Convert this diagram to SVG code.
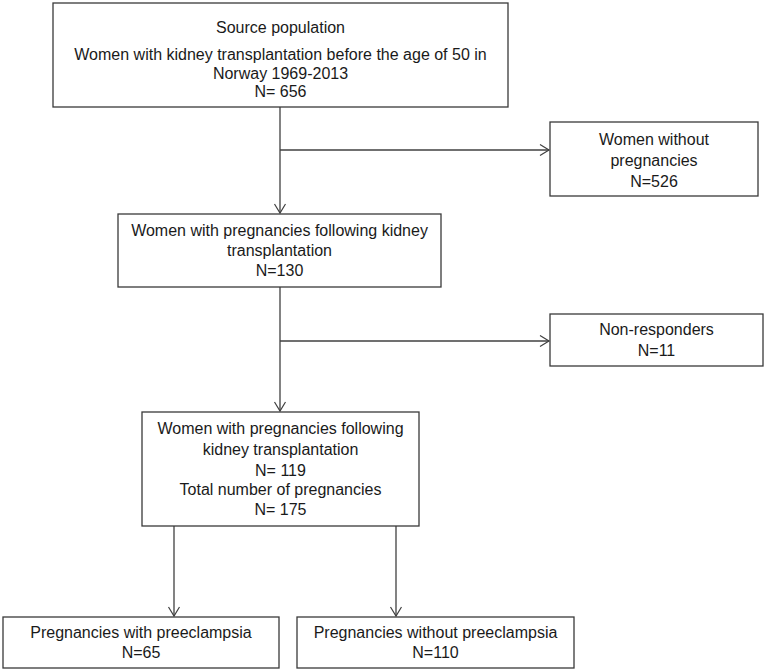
<svg xmlns="http://www.w3.org/2000/svg" width="767" height="672" viewBox="0 0 767 672">
<style>
  .box { fill: #ffffff; stroke: #3a3a3a; stroke-width: 1.3; }
  .t { font-family: "Liberation Sans", Arial, sans-serif; font-size: 16px; fill: #1a1a1a; text-anchor: middle; }
  .c { stroke: #404040; stroke-width: 1.3; fill: none; }
</style>
<defs>
  <marker id="arr" markerUnits="userSpaceOnUse" markerWidth="14" markerHeight="14" refX="10" refY="6" orient="auto" viewBox="0 0 14 14">
    <path d="M1,0.5 L10,6 L1,11.5" fill="none" stroke="#404040" stroke-width="1.2"/>
  </marker>
</defs>
<rect width="767" height="672" fill="#ffffff"/>
<g id="connectors">
  <line class="c" x1="280" y1="107" x2="280" y2="213" marker-end="url(#arr)"/>
  <line class="c" x1="280" y1="150" x2="549" y2="150" marker-end="url(#arr)"/>
  <line class="c" x1="280" y1="287" x2="280" y2="411" marker-end="url(#arr)"/>
  <line class="c" x1="280" y1="341" x2="549" y2="341" marker-end="url(#arr)"/>
  <line class="c" x1="174" y1="526" x2="174" y2="616" marker-end="url(#arr)"/>
  <line class="c" x1="396" y1="526" x2="396" y2="616" marker-end="url(#arr)"/>
</g>
<g id="source">
  <rect class="box" x="53" y="3" width="455" height="104"/>
  <text class="t" x="280.5" y="33">Source population</text>
  <text class="t" x="280.5" y="60">Women with kidney transplantation before the age of 50 in</text>
  <text class="t" x="280.5" y="79">Norway 1969-2013</text>
  <text class="t" x="280.5" y="97">N= 656</text>
</g>
<g id="without">
  <rect class="box" x="550" y="122" width="208" height="74"/>
  <text class="t" x="654" y="145">Women without</text>
  <text class="t" x="654" y="166">pregnancies</text>
  <text class="t" x="654" y="187">N=526</text>
</g>
<g id="withpreg">
  <rect class="box" x="118" y="214" width="323" height="73"/>
  <text class="t" x="279.5" y="236">Women with pregnancies following kidney</text>
  <text class="t" x="279.5" y="256">transplantation</text>
  <text class="t" x="279.5" y="276">N=130</text>
</g>
<g id="nonresp">
  <rect class="box" x="550" y="314" width="213" height="52"/>
  <text class="t" x="656.5" y="335">Non-responders</text>
  <text class="t" x="656.5" y="356">N=11</text>
</g>
<g id="total">
  <rect class="box" x="142" y="412" width="277" height="114"/>
  <text class="t" x="280.5" y="434">Women with pregnancies following</text>
  <text class="t" x="280.5" y="455">kidney transplantation</text>
  <text class="t" x="280.5" y="476">N= 119</text>
  <text class="t" x="280.5" y="495">Total number of pregnancies</text>
  <text class="t" x="280.5" y="515">N= 175</text>
</g>
<g id="pe">
  <rect class="box" x="3" y="617" width="276" height="51"/>
  <text class="t" x="141" y="638">Pregnancies with preeclampsia</text>
  <text class="t" x="141" y="658">N=65</text>
</g>
<g id="nope">
  <rect class="box" x="297" y="617" width="277" height="51"/>
  <text class="t" x="435.5" y="638">Pregnancies without preeclampsia</text>
  <text class="t" x="435.5" y="658">N=110</text>
</g>
</svg>
